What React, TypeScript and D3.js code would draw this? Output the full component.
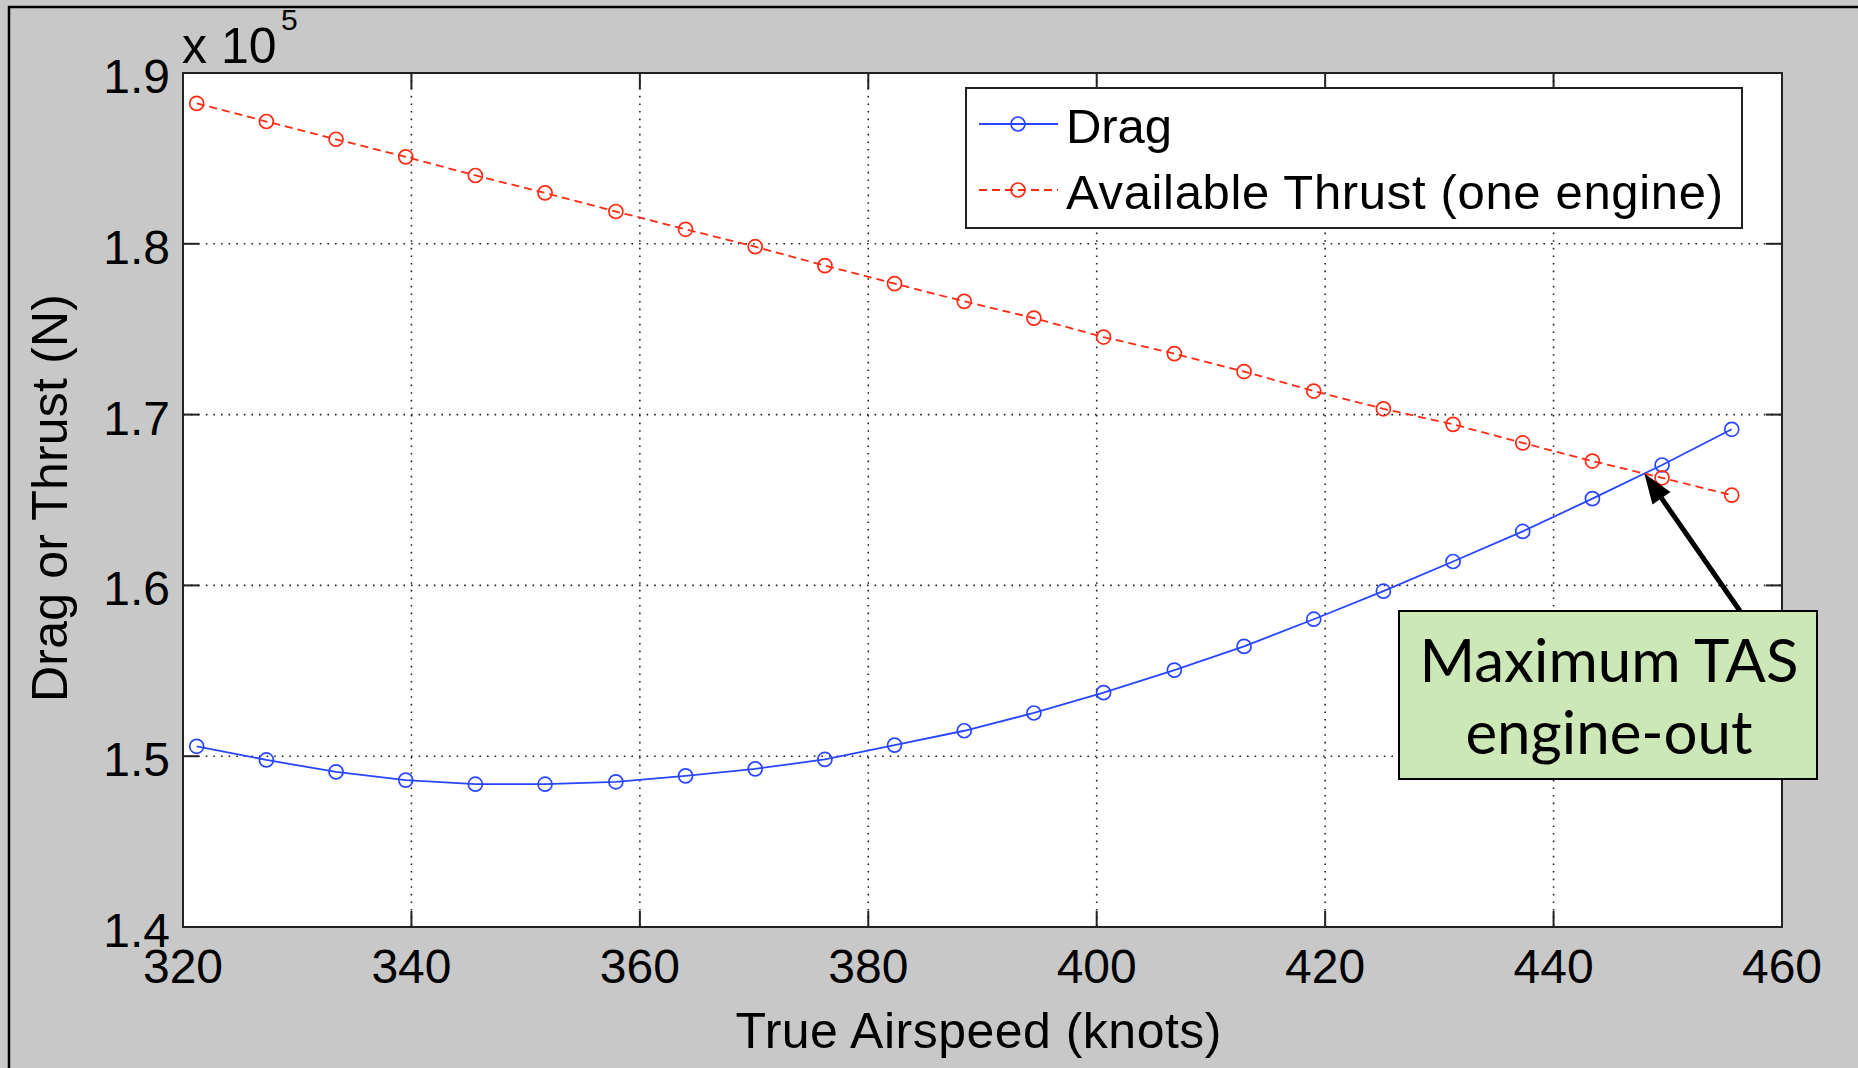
import { useEffect, useRef } from "react";
import * as d3 from "d3";

// True airspeed samples (knots)
const tas = [
  321.2, 327.3, 333.4, 339.5, 345.6, 351.7, 357.9, 364.0, 370.1, 376.2, 382.3, 388.4,
  394.5, 400.6, 406.8, 412.9, 419.0, 425.1, 431.2, 437.3, 443.4, 449.5, 455.6,
];

// Drag (N)
const drag = [
  150580, 149780, 149080, 148600, 148360, 148360, 148500, 148850, 149260, 149810, 150650,
  151490, 152530, 153720, 155040, 156430, 158020, 159660, 161400, 163160, 165080, 167050,
  169140,
];

// Available thrust, one engine (N)
const thrust = [
  188220, 187160, 186120, 185090, 184000, 182980, 181890, 180850, 179830, 178720, 177670,
  176630, 175650, 174540, 173570, 172520, 171380, 170340, 169430, 168340, 167280, 166300,
  165280,
];

const xTicks = [320, 340, 360, 380, 400, 420, 440, 460];
const yTicks = [140000, 150000, 160000, 170000, 180000, 190000];
const seriesNames = ["Drag", "Available Thrust (one engine)"];
const seriesColors = ["#2846ff", "#ff2a12"];
const noteLines = ["Maximum TAS", "engine-out"];

const FONT = "'Liberation Sans', Arial, Helvetica, sans-serif";

export default function App() {
  const svgRef = useRef<SVGSVGElement>(null);

  useEffect(() => {
    if (!svgRef.current) return;
    const svg = d3.select(svgRef.current);
    svg.selectAll("*").remove();

    const width = 1858;
    const height = 1068;
    const left = 183;
    const right = 1782;
    const top = 73;
    const bottom = 927;

    const x = d3.scaleLinear().domain([320, 460]).range([left, right]);
    const y = d3.scaleLinear().domain([140000, 190000]).range([bottom, top]);

    // figure background + frame
    svg.append("rect").attr("width", width).attr("height", height).attr("fill", "#c8c8c8");
    svg
      .append("rect")
      .attr("x", 9)
      .attr("y", 7)
      .attr("width", width + 20)
      .attr("height", height + 20)
      .attr("fill", "none")
      .attr("stroke", "#000")
      .attr("stroke-width", 2.5);

    // axes area
    svg
      .append("rect")
      .attr("x", left)
      .attr("y", top)
      .attr("width", right - left)
      .attr("height", bottom - top)
      .attr("fill", "#fff");

    // grid
    const grid = svg.append("g").attr("stroke", "#222").attr("stroke-width", 1.6).attr("stroke-dasharray", "1.6 6");
    xTicks.slice(1, -1).forEach((t) => {
      grid.append("line").attr("x1", x(t)).attr("x2", x(t)).attr("y1", top).attr("y2", bottom);
    });
    yTicks.slice(1, -1).forEach((t) => {
      grid.append("line").attr("x1", left).attr("x2", right).attr("y1", y(t)).attr("y2", y(t));
    });

    // ticks on all four sides
    const tickLen = 16;
    const ticks = svg.append("g").attr("stroke", "#222").attr("stroke-width", 2);
    xTicks.forEach((t) => {
      ticks.append("line").attr("x1", x(t)).attr("x2", x(t)).attr("y1", bottom).attr("y2", bottom - tickLen);
      ticks.append("line").attr("x1", x(t)).attr("x2", x(t)).attr("y1", top).attr("y2", top + tickLen);
    });
    yTicks.forEach((t) => {
      ticks.append("line").attr("x1", left).attr("x2", left + tickLen).attr("y1", y(t)).attr("y2", y(t));
      ticks.append("line").attr("x1", right).attr("x2", right - tickLen).attr("y1", y(t)).attr("y2", y(t));
    });

    svg
      .append("rect")
      .attr("x", left)
      .attr("y", top)
      .attr("width", right - left)
      .attr("height", bottom - top)
      .attr("fill", "none")
      .attr("stroke", "#222")
      .attr("stroke-width", 2);

    // tick labels
    svg
      .append("g")
      .selectAll("text")
      .data(xTicks)
      .join("text")
      .attr("x", (d) => x(d))
      .attr("y", bottom + 56)
      .attr("text-anchor", "middle")
      .attr("font-family", FONT)
      .attr("font-size", 48)
      .text((d) => d);

    svg
      .append("g")
      .selectAll("text")
      .data(yTicks)
      .join("text")
      .attr("x", left - 13)
      .attr("y", (d) => y(d) + 20)
      .attr("text-anchor", "end")
      .attr("font-family", FONT)
      .attr("font-size", 48)
      .text((d) => (d / 1e5).toFixed(1));

    // exponent
    svg
      .append("text")
      .attr("x", left - 1)
      .attr("y", 63)
      .attr("font-family", FONT)
      .attr("font-size", 50)
      .text("x 10");
    svg
      .append("text")
      .attr("x", 281)
      .attr("y", 30)
      .attr("font-family", FONT)
      .attr("font-size", 30)
      .text("5");

    // axis labels
    svg
      .append("text")
      .attr("x", (left + right) / 2 - 4)
      .attr("y", 1048)
      .attr("text-anchor", "middle")
      .attr("font-family", FONT)
      .attr("font-size", 50)
      .attr("textLength", 486)
      .attr("lengthAdjust", "spacing")
      .text("True Airspeed (knots)");

    svg
      .append("text")
      .attr("transform", `translate(67, ${(top + bottom) / 2 - 2}) rotate(-90)`)
      .attr("text-anchor", "middle")
      .attr("font-family", FONT)
      .attr("font-size", 50)
      .attr("textLength", 408)
      .attr("lengthAdjust", "spacing")
      .text("Drag or Thrust (N)");

    // series
    const series = [drag, thrust];
    const line = d3
      .line<number>()
      .x((_, i) => x(tas[i]))
      .y((d) => y(d));

    series.forEach((vals, si) => {
      const g = svg.append("g");
      g.append("path")
        .datum(vals)
        .attr("d", line)
        .attr("fill", "none")
        .attr("stroke", seriesColors[si])
        .attr("stroke-width", 1.8)
        .attr("stroke-dasharray", si === 1 ? "8 5" : null);
      g.selectAll("circle")
        .data(vals)
        .join("circle")
        .attr("cx", (_, i) => x(tas[i]))
        .attr("cy", (d) => y(d))
        .attr("r", 7)
        .attr("fill", "none")
        .attr("stroke", seriesColors[si])
        .attr("stroke-width", 1.7);
    });

    // legend
    const lg = svg.append("g");
    lg.append("rect")
      .attr("x", 966)
      .attr("y", 88)
      .attr("width", 776)
      .attr("height", 140)
      .attr("fill", "#fff")
      .attr("stroke", "#222")
      .attr("stroke-width", 2);
    const legendLens = [106, 657];
    seriesNames.forEach((name, i) => {
      const cy = 124 + i * 66;
      lg.append("line")
        .attr("x1", 979)
        .attr("x2", 1058)
        .attr("y1", cy)
        .attr("y2", cy)
        .attr("stroke", seriesColors[i])
        .attr("stroke-width", 1.8)
        .attr("stroke-dasharray", i === 1 ? "8 5" : null);
      lg.append("circle")
        .attr("cx", 1018)
        .attr("cy", cy)
        .attr("r", 7)
        .attr("fill", "none")
        .attr("stroke", seriesColors[i])
        .attr("stroke-width", 1.7);
      lg.append("text")
        .attr("x", 1066)
        .attr("y", cy + 19)
        .attr("font-family", FONT)
        .attr("font-size", 49)
        .attr("textLength", legendLens[i])
        .attr("lengthAdjust", "spacing")
        .text(name);
    });

    // crossing point of drag and thrust
    let cross: [number, number] = [x(tas[tas.length - 1]), y(drag[drag.length - 1])];
    for (let i = 0; i < tas.length - 1; i++) {
      const d0 = thrust[i] - drag[i];
      const d1 = thrust[i + 1] - drag[i + 1];
      if (d0 >= 0 && d1 < 0) {
        const f = d0 / (d0 - d1);
        cross = [
          x(tas[i] + f * (tas[i + 1] - tas[i])),
          y(drag[i] + f * (drag[i + 1] - drag[i])),
        ];
        break;
      }
    }

    // annotation arrow
    const tail: [number, number] = [1740, 611];
    const ang = Math.atan2(cross[1] - tail[1], cross[0] - tail[0]);
    const headLen = 30;
    const headW = 11;
    const bx = cross[0] - headLen * Math.cos(ang);
    const by = cross[1] - headLen * Math.sin(ang);
    svg
      .append("line")
      .attr("x1", tail[0])
      .attr("y1", tail[1])
      .attr("x2", bx)
      .attr("y2", by)
      .attr("stroke", "#000")
      .attr("stroke-width", 5);
    svg
      .append("path")
      .attr(
        "d",
        `M${cross[0]},${cross[1]} L${bx + headW * Math.sin(ang)},${by - headW * Math.cos(ang)} L${
          bx - headW * Math.sin(ang)
        },${by + headW * Math.cos(ang)} Z`
      )
      .attr("fill", "#000");

    // annotation box
    svg
      .append("rect")
      .attr("x", 1399)
      .attr("y", 611)
      .attr("width", 418)
      .attr("height", 168)
      .attr("fill", "#cde8b7")
      .attr("stroke", "#000")
      .attr("stroke-width", 2);
    noteLines.forEach((t, i) => {
      svg
        .append("text")
        .attr("x", 1609)
        .attr("y", 682 + i * 72)
        .attr("text-anchor", "middle")
        .attr("font-family", "Lato, 'Open Sans', sans-serif")
        .attr("font-size", 60)
        .attr("fill", "#000")
        .text(t);
    });
  }, []);

  return (
    <svg
      ref={svgRef}
      width={1858}
      height={1068}
      style={{ position: "absolute", left: 0, top: 0, display: "block" }}
    />
  );
}
